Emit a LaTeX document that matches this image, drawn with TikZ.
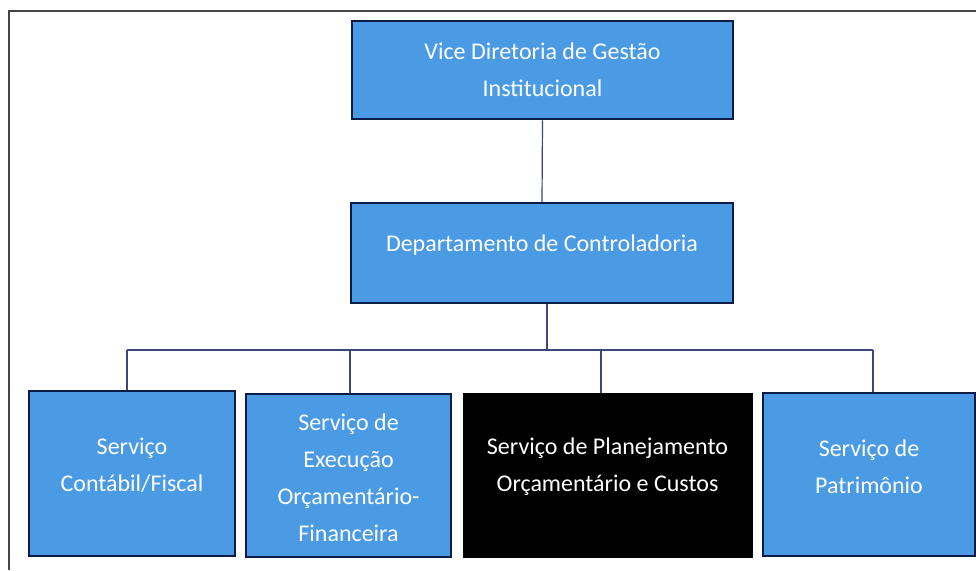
\documentclass[tikz,border=0pt]{standalone}
\usepackage{fontspec}
\setmainfont{Carlito}
\definecolor{boxblue}{RGB}{74,154,228}
\definecolor{boxnavy}{RGB}{12,28,70}
\definecolor{linkcol}{RGB}{58,72,120}
\definecolor{framecol}{RGB}{70,70,70}
\begin{document}
\begin{tikzpicture}[x=1pt,y=-1pt,
  bluebox/.style={draw=boxnavy,fill=boxblue,line width=2.5pt,inner sep=0pt},
  blackbox/.style={draw=black,fill=black,line width=1pt,inner sep=0pt},
  lbl/.style={text=white,align=center,inner sep=0pt,font=\fontsize{24}{37}\selectfont},
  link/.style={draw=linkcol,line width=1.2pt}]
\useasboundingbox (0,0) rectangle (976,570);
\draw[framecol,line width=1.5pt] (9,570) -- (9,11) -- (976,11);
% boxes
\node[bluebox,minimum width=381,minimum height=98] (top) at (542.5,70) {};
\node[bluebox,minimum width=382,minimum height=100] (dept) at (542,253) {};
\node[bluebox,minimum width=206,minimum height=165] (b1) at (132,473.5) {};
\node[bluebox,minimum width=205,minimum height=163] (b2) at (348.5,475.5) {};
\node[blackbox,minimum width=289,minimum height=164] (b3) at (607.5,475) {};
\node[bluebox,minimum width=212,minimum height=163] (b4) at (869,474.5) {};
% labels
\node[lbl] (ltop) at (top.center) {Vice Diretoria de Gestão\\Institucional};
\node[lbl] (ldept) at ([yshift=8pt]dept.center) {Departamento de Controladoria};
\node[lbl] (l1) at ([yshift=8pt]b1.center) {Serviço\\Contábil/Fiscal};
\node[lbl] (l2) at ([yshift=-2pt]b2.center) {Serviço de\\Execução\\Orçamentário-\\Financeira};
\node[lbl] (l3) at ([yshift=8pt]b3.center) {Serviço de Planejamento\\Orçamentário e Custos};
\node[lbl] (l4) at ([yshift=8pt]b4.center) {Serviço de\\Patrimônio};
% connectors
\coordinate (busM) at (547,350);
\coordinate (busL) at (127,350);
\coordinate (busR) at (873,350);
\coordinate (d1) at (127,350);
\coordinate (d2) at (350,350);
\coordinate (d3) at (601,350);
\coordinate (d4) at (873,350);
\draw[link] (top.south) -- (dept.north);
\draw[link] (dept.south -| busM) -- (busM);
\draw[link] (busL) -- (busR);
\draw[link] (d1) -- (d1 |- b1.north);
\draw[link] (d2) -- (d2 |- b2.north);
\draw[link] (d3) -- (d3 |- b3.north);
\draw[link] (d4) -- (d4 |- b4.north);
\end{tikzpicture}
\end{document}
